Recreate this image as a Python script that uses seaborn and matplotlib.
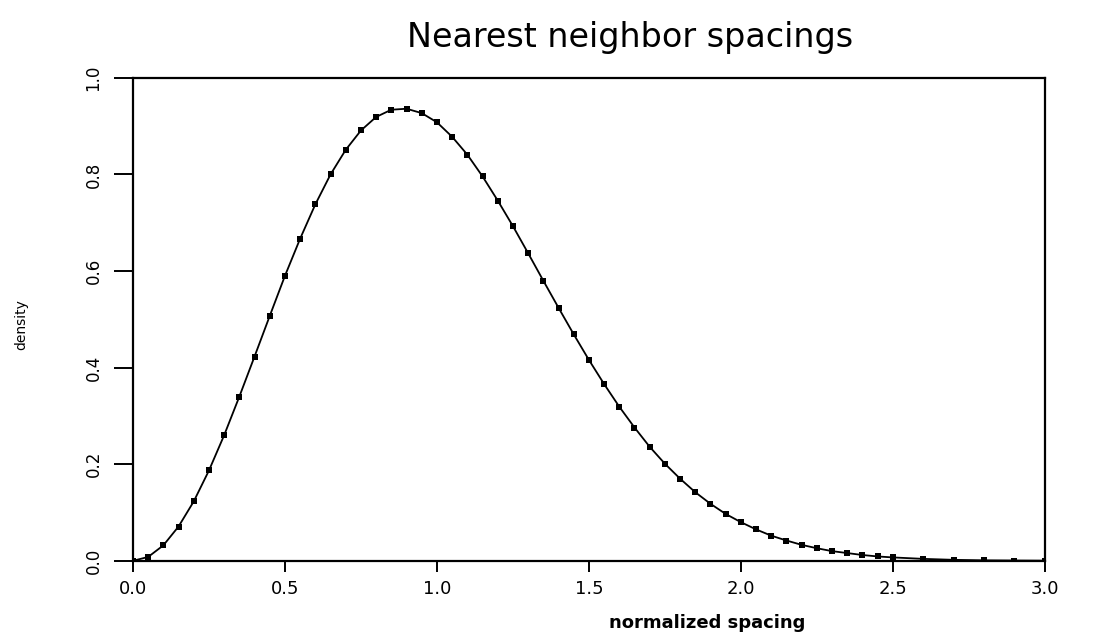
import matplotlib
matplotlib.use("Agg")
import matplotlib.pyplot as plt
import seaborn as sns
import pandas as pd

# normalized spacing (x) and density (y)
spacing = [0.0, 0.05, 0.10, 0.15, 0.20, 0.25, 0.30, 0.35, 0.40, 0.45, 0.50,
           0.55, 0.60, 0.65, 0.70, 0.75, 0.80, 0.85, 0.90, 0.95, 1.00,
           1.05, 1.10, 1.15, 1.20, 1.25, 1.30, 1.35, 1.40, 1.45, 1.50,
           1.55, 1.60, 1.65, 1.70, 1.75, 1.80, 1.85, 1.90, 1.95, 2.00,
           2.05, 2.10, 2.15, 2.20, 2.25, 2.30, 2.35, 2.40, 2.45, 2.50,
           2.60, 2.70, 2.80, 2.90, 3.00]
density = [0.000, 0.008, 0.032, 0.071, 0.123, 0.187, 0.260, 0.340, 0.423, 0.507, 0.590,
           0.667, 0.738, 0.800, 0.851, 0.891, 0.919, 0.934, 0.936, 0.927, 0.908,
           0.878, 0.841, 0.796, 0.746, 0.693, 0.637, 0.580, 0.524, 0.469, 0.416,
           0.366, 0.319, 0.276, 0.236, 0.201, 0.170, 0.142, 0.118, 0.097, 0.080,
           0.065, 0.052, 0.042, 0.033, 0.026, 0.020, 0.016, 0.012, 0.009, 0.007,
           0.004, 0.002, 0.001, 0.0006, 0.0003]

x_ticks = [0.0, 0.5, 1.0, 1.5, 2.0, 2.5, 3.0]
x_tick_labels = ["0.0", "0.5", "1.0", "1.5", "2.0", "2.5", "3.0"]
y_ticks = [0.0, 0.2, 0.4, 0.6, 0.8, 1.0]
y_tick_labels = ["0.0", "0.2", "0.4", "0.6", "0.8", "1.0"]

df = pd.DataFrame({"spacing": spacing, "density": density})

sns.set_style("ticks")
plt.rcParams['font.family'] = ['DejaVu Sans']
plt.rcParams['text.color'] = 'black'
plt.rcParams['axes.labelcolor'] = 'black'

fig = plt.figure(figsize=(11.08, 6.38), dpi=100)
ax = fig.add_axes([0.120, 0.121, 0.823, 0.757])

sns.lineplot(data=df, x="spacing", y="density", ax=ax, color="black",
             linewidth=1.3, marker="s", markersize=4.5, markeredgewidth=0,
             markerfacecolor="black")

ax.set_xlim(0, 3)
ax.set_ylim(0, 1)
ax.set_xticks(x_ticks)
ax.set_xticklabels(x_tick_labels, fontsize=13)
ax.set_yticks(y_ticks)
ax.set_yticklabels(y_tick_labels, fontsize=12, rotation=90, va="center")
ax.tick_params(axis="x", direction="out", length=8, width=1.4, pad=6, colors="black")
ax.tick_params(axis="y", direction="out", length=14, width=1.4, pad=8, colors="black")

for side in ["left", "right", "top", "bottom"]:
    ax.spines[side].set_visible(True)
    ax.spines[side].set_linewidth(1.6)
    ax.spines[side].set_color("black")

ax.set_title("Nearest neighbor spacings", fontsize=24, pad=22, x=0.545, color="black")
ax.set_xlabel("normalized spacing", fontsize=13, fontweight="bold")
ax.xaxis.set_label_coords(0.63, -0.11)
ax.set_ylabel("density", fontsize=10)
ax.yaxis.set_label_coords(-0.115, 0.49)

fig.savefig("out.png", dpi=100, facecolor="white")
